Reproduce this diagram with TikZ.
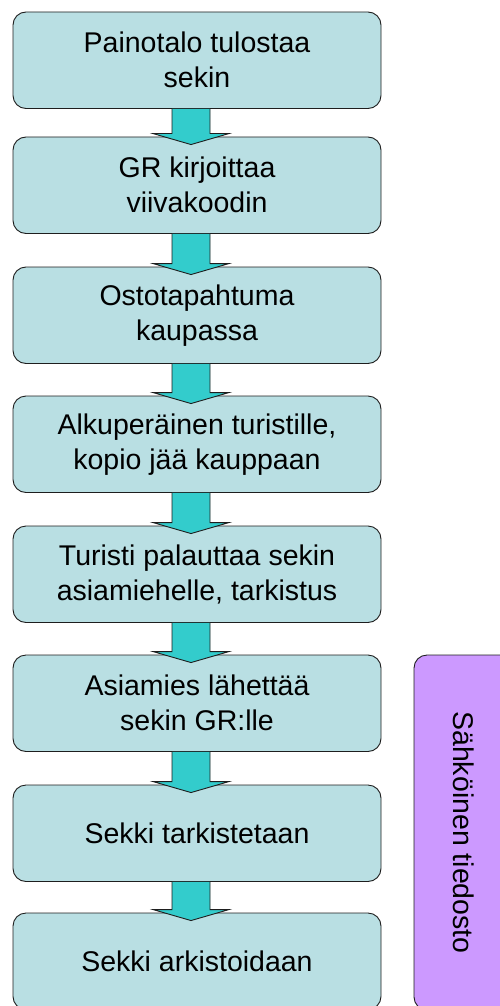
\documentclass[tikz,border=0pt]{standalone}
\usepackage{fontspec}
\setmainfont{Liberation Sans}
\usetikzlibrary{calc}
\definecolor{boxfill}{RGB}{185,223,227}
\definecolor{arrfill}{RGB}{51,204,204}
\definecolor{purp}{RGB}{204,153,255}
\definecolor{edge}{RGB}{30,30,30}
\begin{document}
\begin{tikzpicture}[x=1pt,y=1pt,
  stepbox/.style={draw=edge, line width=0.9pt, fill=boxfill, rounded corners=13pt,
    minimum width=368pt, minimum height=96.5pt, inner sep=0pt, align=center,
    font=\fontsize{28.5}{35}\selectfont},
  sidebox/.style={draw=edge, line width=0.9pt, fill=purp, rounded corners=13pt,
    minimum width=355pt, minimum height=100pt, inner sep=0pt,
    font=\fontsize{28.5}{35}\selectfont},
  flowarrow/.style={draw=edge, line width=0.9pt, fill=arrfill, line join=miter}]
\useasboundingbox (0,0) rectangle (500,-1006);
\clip (0,0) rectangle (500,-1006);
\node[stepbox] (b1) at (197,-60.25) {Painotalo tulostaa\\sekin};
\node[stepbox] (b2) at (197,-185.25) {GR kirjoittaa\\viivakoodin};
\node[stepbox] (b3) at (197,-315.25) {Ostotapahtuma\\kaupassa};
\node[stepbox] (b4) at (197,-444.25) {Alkuperäinen turistille,\\kopio jää kauppaan};
\node[stepbox] (b5) at (197,-574.25) {Turisti palauttaa sekin\\asiamiehelle, tarkistus};
\node[stepbox] (b6) at (197,-703.25) {Asiamies lähettää\\sekin GR:lle};
\node[stepbox] (b7) at (197,-833.25) {Sekki tarkistetaan};
\node[stepbox] (b8) at (197,-961.25) {Sekki arkistoidaan};
\node[sidebox, rotate=-90] (side) at (464,-832.5) {Sähköinen tiedosto};
\foreach \a/\b in {b1/b2,b2/b3,b3/b4,b4/b5,b5/b6,b6/b7,b7/b8}{
  \draw[flowarrow] ($(\a.south)+(-25,0)$) -- ($(\b.north)+(-25,3)$) -- ($(\b.north)+(-44,3)$)
    -- ($(\b.north)+(-6,-8)$) -- ($(\b.north)+(32,3)$) -- ($(\b.north)+(13,3)$)
    -- ($(\a.south)+(13,0)$);
}
\end{tikzpicture}
\end{document}
